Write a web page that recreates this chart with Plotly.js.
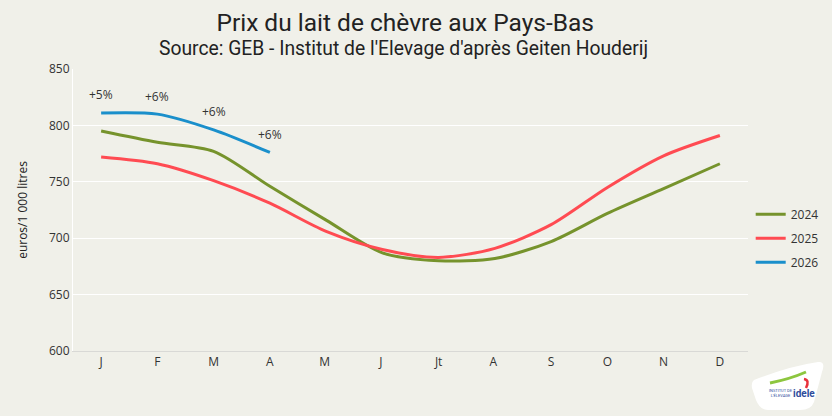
<!DOCTYPE html>
<html><head><meta charset="utf-8">
<script src="https://cdn.plot.ly/plotly-3.0.1.min.js"></script>
<style>html,body{margin:0;padding:0;background:#F0F0E9;}#c{width:832px;height:416px;}</style>
</head><body><div id="c"></div>
<script>
const months = ["J","F","M","A","M ","J ","Jt","A ","S","O","N","D"];
const v2024 = [795,785,777,746,716,687,680,682,697,722,744,766];
const v2025 = [772,766,751,731,706,690,683,691,712,745,773,791];
const v2026 = [811,810,796,776];
const labels2026 = ["+5%","+6%","+6%","+6%"];

const bg = "#F0F0E9";
const traces = [
  {x: months, y: v2024, name: "2024", legendgroup: "a", mode: "lines", line: {color: "#76932C", width: 3, shape: "spline", smoothing: 0.8}},
  {x: months, y: v2025, name: "2025", legendgroup: "b", mode: "lines", line: {color: "#FF4B52", width: 3, shape: "spline", smoothing: 0.8}},
  {x: months.slice(0, v2026.length), y: v2026, name: "2026", legendgroup: "c", mode: "lines", line: {color: "#1A8FCB", width: 3, shape: "spline", smoothing: 0.8}}
];
// pixel -> paper helpers for decoration placement
const L = 73, R = 748, T = 69, B = 351;
const px = x => (x - L) / (R - L);
const py = y => (B - y) / (B - T);

const annotations = labels2026.map((t, i) => ({
  x: months[i], y: v2026[i], text: t, showarrow: false, yshift: 18,
  font: {family: "Open Sans, sans-serif", size: 12, color: "#333"}
}));
annotations.push({xref: "paper", yref: "paper", x: 0.49, y: 1.074, yanchor: "middle", xanchor: "center",
  text: "Source: GEB - Institut de l'Elevage d'après Geiten Houderij", showarrow: false,
  font: {family: "Roboto, sans-serif", size: 19.3, color: "#222"}});
annotations.push({xref: "paper", yref: "paper", x: px(804), y: py(393), xanchor: "center", yanchor: "middle",
  text: "<b>idele</b>", showarrow: false, font: {family: "Roboto, sans-serif", size: 10, color: "#2E4C9C"}});
annotations.push({xref: "paper", yref: "paper", x: px(781), y: py(393), xanchor: "center", yanchor: "middle",
  text: "INSTITUT DE<br>L'ÉLEVAGE", showarrow: false, font: {family: "Roboto, sans-serif", size: 4, color: "#2E4C9C"}});

const logoPath = "M " + px(754) + " " + py(380) +
  " Q " + px(790) + " " + py(366) + " " + px(818) + " " + py(362) +
  " Q " + px(826) + " " + py(361) + " " + px(822) + " " + py(372) +
  " L " + px(814) + " " + py(402) +
  " Q " + px(811) + " " + py(410) + " " + px(800) + " " + py(410) +
  " L " + px(768) + " " + py(410) +
  " Q " + px(760) + " " + py(410) + " " + px(756) + " " + py(400) +
  " L " + px(752) + " " + py(388) + " Q " + px(751) + " " + py(382) + " " + px(754) + " " + py(380) + " Z";

const layout = {
  width: 832, height: 416,
  paper_bgcolor: bg, plot_bgcolor: bg,
  margin: {l: 73, r: 84, t: 69, b: 65, autoexpand: false},
  title: {text: "Prix du lait de chèvre aux Pays-Bas",
    xref: "container", yref: "container", x: 0.487, xanchor: "center", y: 0.947, yanchor: "middle",
    font: {family: "Roboto, sans-serif", size: 24.5, color: "#222"}},
  xaxis: {type: "category", range: [-0.5, 11.5], showgrid: false, showline: true, linecolor: "#D9D9D6", linewidth: 1,
    ticks: "", tickfont: {family: "Open Sans, sans-serif", size: 12, color: "#333"}, fixedrange: true},
  yaxis: {range: [600, 850], dtick: 50, showgrid: true, gridcolor: "#FFFFFF", gridwidth: 1, zeroline: false,
    showline: true, linecolor: "#FFFFFF", ticks: "", ticklen: 0,
    tickfont: {family: "Open Sans, sans-serif", size: 12, color: "#333"},
    title: {text: "euros/1 000 litres", standoff: 18, font: {family: "Open Sans, sans-serif", size: 12, color: "#222"}}},
  legend: {x: 1.004, xanchor: "left", y: 0.40, yanchor: "middle", bgcolor: "rgba(0,0,0,0)",
    font: {family: "Open Sans, sans-serif", size: 12, color: "#333"}, tracegroupgap: 5, itemwidth: 30},
  annotations: annotations,
  shapes: [
    {type: "path", xref: "paper", yref: "paper", path: logoPath, fillcolor: "#FFFFFF", line: {width: 0}},
    {type: "path", xref: "paper", yref: "paper",
      path: "M " + px(770) + " " + py(383) + " Q " + px(790) + " " + py(379) + " " + px(806) + " " + py(372),
      line: {color: "#8DC63F", width: 3}},
    {type: "path", xref: "paper", yref: "paper",
      path: "M " + px(804) + " " + py(379) + " Q " + px(810) + " " + py(380) + " " + px(806) + " " + py(388),
      line: {color: "#E8323C", width: 2.5}}
  ],
  showlegend: true
};
Plotly.newPlot("c", traces, layout, {displayModeBar: false, staticPlot: true});
</script></body></html>
